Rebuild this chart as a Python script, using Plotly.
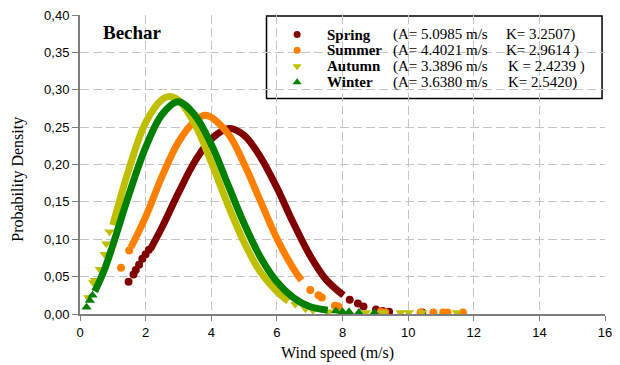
import plotly.graph_objects as go

# ---------------- data ----------------
seasons = ["Spring", "Summer", "Autumn", "Winter"]
colors = ["#800000", "#FF8000", "#BFBF00", "#008000"]
symbols = ["circle", "circle", "triangle-down", "triangle-up"]
param_a = ["(A= 5.0985 m/s", "(A= 4.4021 m/s", "(A= 3.3896 m/s", "(A= 3.6380 m/s"]
param_k = ["K= 3.2507)", "K= 2.9614 )", "K = 2.4239 )", "K= 2.5420)"]

# dense (continuous-looking) part of each curve
spring_x = [2.15, 2.5, 3.0, 3.5, 4.0, 4.55, 5.0, 5.5, 6.0, 6.5, 7.0, 7.5, 8.03]
spring_y = [0.087, 0.116, 0.162, 0.204, 0.234, 0.248, 0.239, 0.210, 0.169, 0.122, 0.079, 0.046, 0.025]
summer_x = [1.55, 2.0, 2.5, 3.0, 3.5, 3.83, 4.5, 5.0, 5.5, 6.0, 6.5, 6.75]
summer_y = [0.089, 0.130, 0.184, 0.230, 0.258, 0.266, 0.242, 0.201, 0.151, 0.101, 0.061, 0.045]
autumn_x = [1.0, 1.5, 2.0, 2.5, 2.72, 3.0, 3.5, 4.0, 4.5, 5.0, 5.5, 6.0, 6.35]
autumn_y = [0.119, 0.195, 0.256, 0.287, 0.291, 0.286, 0.254, 0.203, 0.147, 0.096, 0.056, 0.030, 0.017]
winter_x = [0.45, 0.75, 1.0, 1.5, 2.0, 2.5, 2.99, 3.5, 4.0, 4.5, 5.0, 5.5, 6.0, 6.5, 7.0, 7.55]
winter_y = [0.030, 0.060, 0.092, 0.161, 0.223, 0.267, 0.284, 0.266, 0.227, 0.174, 0.121, 0.076, 0.043, 0.022, 0.010, 0.005]

# sparse isolated points at both ends of each curve
spring_px = [1.48, 1.63, 1.70, 1.80, 1.90, 2.00, 2.10, 8.22, 8.47, 8.64, 9.02, 9.22, 9.42, 10.43]
spring_py = [0.043, 0.053, 0.059, 0.066, 0.074, 0.080, 0.086, 0.019, 0.014, 0.010, 0.006, 0.004, 0.003, 0.002]
summer_px = [1.25, 1.50, 7.02, 7.27, 7.37, 7.77, 7.87, 9.17, 9.30, 10.38, 10.77, 11.07, 11.20, 11.67]
summer_py = [0.062, 0.085, 0.032, 0.025, 0.022, 0.011, 0.010, 0.003, 0.002, 0.002, 0.002, 0.002, 0.002, 0.002]
autumn_px = [0.25, 0.40, 0.45, 0.60, 0.75, 0.80, 0.90, 6.56, 6.87, 7.10, 7.57, 7.90, 8.72, 9.22, 9.27, 9.77, 10.02, 10.43, 11.48]
autumn_py = [0.022, 0.042, 0.045, 0.060, 0.080, 0.094, 0.110, 0.013, 0.007, 0.005, 0.003, 0.002, 0.002, 0.002, 0.002, 0.002, 0.002, 0.002, 0.002]
winter_px = [0.20, 0.30, 0.38, 7.80, 8.00, 8.20, 8.50, 8.97]
winter_py = [0.009, 0.018, 0.025, 0.004, 0.003, 0.003, 0.002, 0.002]

curve_x = [spring_x, summer_x, autumn_x, winter_x]
curve_y = [spring_y, summer_y, autumn_y, winter_y]
pts_x = [spring_px, summer_px, autumn_px, winter_px]
pts_y = [spring_py, summer_py, autumn_py, winter_py]

y_ticks = [0.0, 0.05, 0.10, 0.15, 0.20, 0.25, 0.30, 0.35, 0.40]
x_ticks = [0, 2, 4, 6, 8, 10, 12, 14, 16]

# ---------------- layout helpers ----------------
W, H = 620, 365
ML, MR, MT, MB = 80, 8, 13, 51
PW, PH = W - ML - MR, H - MT - MB


def fx(px):
    return (px - ML) / PW


def fy(py):
    return (H - MB - py) / PH


serif = "Liberation Serif, Times New Roman, serif"
sans = "Liberation Sans, Arial, sans-serif"

fig = go.Figure()

for i, s in enumerate(seasons):
    fig.add_trace(go.Scatter(
        x=curve_x[i], y=curve_y[i], mode="lines",
        line=dict(color=colors[i], width=7, shape="spline", smoothing=1.0),
        showlegend=False, hoverinfo="skip"))
    fig.add_trace(go.Scatter(
        x=pts_x[i], y=pts_y[i], mode="markers", name=s,
        marker=dict(color=colors[i], symbol=symbols[i], size=8 if symbols[i] == "circle" else 9,
                    opacity=1, line=dict(width=0)),
        showlegend=False))

# legend markers on a hidden overlay axis (paper-like 0..1 coordinates)
row_py = [32.7, 48.5, 64.5, 80.7]
fig.add_trace(go.Scatter(
    x=[fx(300)] * 4, y=[fy(p) for p in row_py], mode="markers",
    marker=dict(color=colors, symbol=symbols, size=[7, 7, 8, 8], opacity=1, line=dict(width=0)),
    xaxis="x2", yaxis="y2", showlegend=False, hoverinfo="skip"))

grid = dict(showgrid=True, gridcolor="#C4C4C4", gridwidth=1, griddash="9px,4px")

fig.update_layout(
    width=W, height=H,
    margin=dict(l=ML, r=MR, t=MT, b=MB),
    paper_bgcolor="white", plot_bgcolor="white",
    separators=",.",
    showlegend=False,
    xaxis=dict(range=[0, 16], tickvals=x_ticks, ticktext=[str(v) for v in x_ticks],
               showline=True, linecolor="#7F7F7F", linewidth=2,
               ticks="outside", ticklen=5, tickcolor="#7F7F7F", tickwidth=1,
               tickfont=dict(family=sans, size=13, color="black"),
               zeroline=False, **grid),
    yaxis=dict(range=[0, 0.40], tickvals=y_ticks, tickformat=".2f",
               showline=True, linecolor="#7F7F7F", linewidth=2,
               ticks="outside", ticklen=6, tickcolor="#7F7F7F", tickwidth=1,
               tickfont=dict(family=sans, size=13, color="black"),
               zeroline=False, **grid),
    xaxis2=dict(range=[0, 1], domain=[0, 1], anchor="y2", overlaying="x",
                visible=False, fixedrange=True),
    yaxis2=dict(range=[0, 1], domain=[0, 1], anchor="x2", overlaying="y",
                visible=False, fixedrange=True),
)

# legend box (between grid and traces)
fig.add_shape(type="rect", xref="paper", yref="paper",
              x0=fx(269), x1=fx(609), y0=fy(97), y1=fy(14),
              fillcolor="white", line=dict(color="black", width=1.5), layer="between")

ann = []
ann.append(dict(text="<b>Bechar</b>", x=fx(101), y=fy(31), xanchor="left", yanchor="middle",
                font=dict(family=serif, size=19, color="black")))
k_px = [510, 510, 512, 512]
for i, s in enumerate(seasons):
    ann.append(dict(text="<b>%s</b>" % s, x=fx(328), y=fy(row_py[i]), xanchor="left",
                    yanchor="middle", font=dict(family=serif, size=15, color="black")))
    ann.append(dict(text=param_a[i], x=fx(395), y=fy(row_py[i]), xanchor="left",
                    yanchor="middle", font=dict(family=serif, size=15, color="black")))
    ann.append(dict(text=param_k[i], x=fx(k_px[i]), y=fy(row_py[i]), xanchor="left",
                    yanchor="middle", font=dict(family=serif, size=15, color="black")))
ann.append(dict(text="Wind speed (m/s)", x=fx(341), y=fy(353), xanchor="center", yanchor="middle",
                font=dict(family=serif, size=16, color="black")))
ann.append(dict(text="Probability Density", x=fx(17), y=fy(178), xanchor="center", yanchor="middle",
                textangle=-90, font=dict(family=serif, size=16, color="black")))
for a in ann:
    a.update(xref="paper", yref="paper", showarrow=False)
fig.update_layout(annotations=ann)

fig.write_html("out.html")
